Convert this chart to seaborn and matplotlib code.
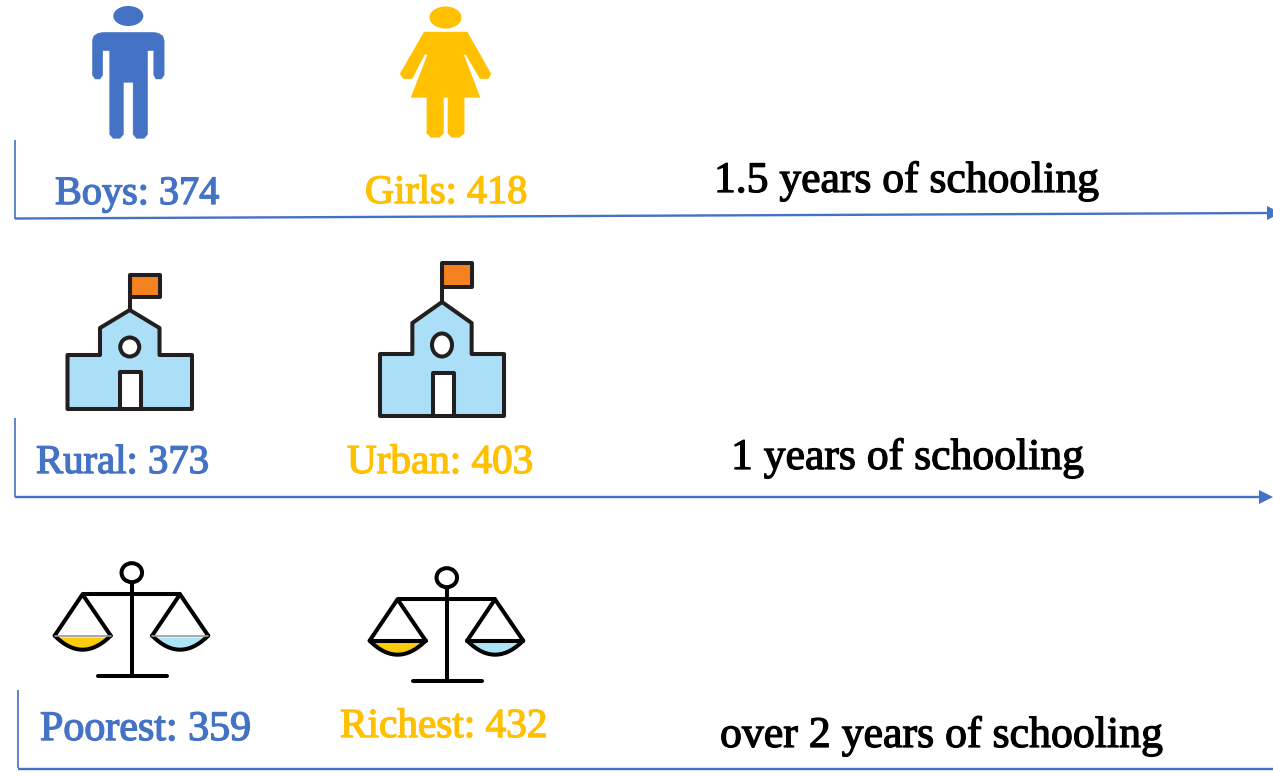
import numpy as np
import pandas as pd
import matplotlib
matplotlib.use("Agg")
import matplotlib.pyplot as plt
import seaborn as sns
from matplotlib.patches import Polygon, Ellipse, Rectangle
import matplotlib.patheffects as pe

# ---------- data ----------
group_a_names = ["Boys", "Rural", "Poorest"]
group_a_scores = [374, 373, 359]
group_b_names = ["Girls", "Urban", "Richest"]
group_b_scores = [418, 403, 432]
gap_labels = ["1.5 years of schooling", "1 years of schooling", "over 2 years of schooling"]

BLUE = "#4472C4"
GOLD = "#FFC000"
INK = "#231F20"

sns.set_theme(style="white")
plt.rcParams["font.family"] = ["Liberation Serif", "DejaVu Serif"]

fig = plt.figure(figsize=(12.73, 7.76), dpi=100)
ax = fig.add_axes([0, 0, 1, 1])
ax.set_xlim(0, 1273)
ax.set_ylim(776, 0)
ax.axis("off")


def fit_text(s, x0, x1, base, color, stroke=0.0):
    t = ax.text(x0, base, s, color=color, fontsize=30, ha="left", va="baseline")
    r = fig.canvas.get_renderer()
    w = t.get_window_extent(r).width
    t.set_fontsize(30 * (x1 - x0) / w)
    if stroke:
        t.set_path_effects([pe.withStroke(linewidth=stroke, foreground=color)])
    return t


# ---------- frames ----------
def frame(xs, ys, lw=1.7, head=None):
    df = pd.DataFrame({"x": xs, "y": ys})
    sns.lineplot(data=df, x="x", y="y", sort=False, estimator=None, color=BLUE,
                 lw=lw, ax=ax, solid_capstyle="butt")
    if head:
        ax.add_patch(Polygon([(head, ys[-1] - 7), (head + 14, ys[-1]), (head, ys[-1] + 7)],
                             closed=True, fc=BLUE, ec="none", clip_on=True))


frame([15, 15], [140, 219], lw=1.2)
frame([15, 1268], [218.5, 213], head=1267)
frame([15, 15], [418, 497], lw=1.2)
frame([15, 1262], [497, 497], head=1259)
frame([18, 18], [690, 768], lw=1.2)
frame([18, 1273], [768.5, 768.5])
ax.set_xlim(0, 1273)
ax.set_ylim(776, 0)
ax.set_xlabel("")
ax.set_ylabel("")


# ---------- icons ----------
def person_boy():
    ax.add_patch(Ellipse((128.3, 16), 30, 20, fc=BLUE, ec="none"))
    p = [(268, 122), (272, 108), (284, 100), (300, 97), (446, 97), (460, 100), (472, 108), (476, 122),
         (476, 225), (468, 237), (452, 237), (446, 225), (446, 152), (428, 152), (428, 403), (418, 415),
         (396, 415), (386, 403), (386, 247), (358, 247), (358, 403), (348, 415), (328, 415), (318, 403),
         (318, 152), (298, 152), (298, 225), (290, 237), (276, 237), (268, 225)]
    ax.add_patch(Polygon([(x / 2.9, y / 3) for x, y in p], closed=True, fc=BLUE, ec=BLUE, lw=0.3, joinstyle="round"))


def person_girl():
    ax.add_patch(Ellipse((445.5, 17.5), 32, 22, fc=GOLD, ec="none"))
    p = [(1230, 96), (1355, 96), (1424, 222), (1416, 236), (1392, 236), (1350, 162), (1345, 165),
         (1392, 292), (1346, 292), (1346, 400), (1332, 412), (1310, 412), (1299, 400), (1299, 292),
         (1286, 292), (1286, 400), (1274, 412), (1250, 412), (1238, 400), (1238, 292), (1192, 292),
         (1240, 165), (1232, 162), (1195, 236), (1170, 236), (1160, 222)]
    ax.add_patch(Polygon([(x / 2.9, y / 3) for x, y in p], closed=True, fc=GOLD, ec=GOLD, lw=0.3, joinstyle="round"))


def school(l, r, fl_top, fl_bot, fl_r, peak, shoulder, base_top, bottom, door_top, cy, rx, ry):
    c = (l + r) / 2
    hw = (r - l) * 0.239
    sty = dict(ec=INK, lw=2.9, joinstyle="round")
    ax.plot([c, c], [peak, fl_top], color=INK, lw=2.9, solid_capstyle="butt")
    ax.add_patch(Rectangle((c, fl_top), fl_r - c, fl_bot - fl_top, fc="#F58220", **sty))
    body = [(l, base_top), (c - hw, base_top), (c - hw, shoulder), (c, peak), (c + hw, shoulder),
            (c + hw, base_top), (r, base_top), (r, bottom), (l, bottom)]
    ax.add_patch(Polygon(body, closed=True, fc="#ABDFF7", **sty))
    ax.add_patch(Ellipse((c, cy), rx * 2, ry * 2, fc="white", **sty))
    ax.add_patch(Rectangle((c - 9.5, door_top), 21, bottom - door_top, fc="white", **sty))


def scale_icon(dx, dy, chord_lw):
    y = lambda v: 550 + v / 3 + dy
    x = lambda v: v / 2.8 + dx
    lw = 2.9
    ax.plot([x(369), x(369)], [y(97), y(378)], color="black", lw=lw, solid_capstyle="butt")
    ax.plot([x(275), x(467)], [y(379), y(379)], color="black", lw=lw, solid_capstyle="round")
    ax.plot([x(231), x(504)], [y(133), y(133)], color="black", lw=lw, solid_capstyle="round")
    ax.add_patch(Ellipse((x(369), y(68)), 20.5, 19, fc="white", ec="black", lw=lw))
    for apex, fill in [(231, "#F9CB0A"), (504, "#ABE3F7")]:
        lft, rgt = apex - 78, apex + 79
        ctrl = 341
        t = np.linspace(0, 1, 60)
        bx = (1 - t) ** 2 * lft + 2 * t * (1 - t) * apex + t ** 2 * rgt
        by = (1 - t) ** 2 * 257 + 2 * t * (1 - t) * ctrl + t ** 2 * 257
        keep = by >= 260
        ax.add_patch(Polygon(list(zip(x(bx[keep]), y(by[keep]))), closed=True, fc=fill, ec="none"))
        ax.plot(x(bx), y(by), color="black", lw=lw)
        ax.plot([x(lft), x(apex), x(rgt)], [y(257), y(133), y(257)], color="black", lw=lw, solid_joinstyle="round")
        ax.plot([x(lft), x(rgt)], [y(257), y(257)], color="black" if chord_lw > 1.5 else "#999999", lw=chord_lw)


person_boy()
person_girl()
school(67.5, 192, 275, 297, 160, 310, 328, 355, 409, 372, 347, 9.5, 9.5)
school(380, 504, 263, 287, 472, 302, 323, 354, 416, 373, 345, 10, 11.5)
scale_icon(0, 0, 1.2)
scale_icon(315, 5, 2.9)

# ---------- text ----------
a_pos = [(55, 219, 204), (36, 209, 473), (40, 251, 740)]
b_pos = [(365, 527, 203), (347, 533, 473), (340, 547, 737)]
g_pos = [(714, 1099, 192), (731, 1084, 469), (720, 1163, 747)]
for n, v, (x0, x1, b) in zip(group_a_names, group_a_scores, a_pos):
    fit_text(f"{n}: {v}", x0, x1, b, BLUE, 1.0)
for n, v, (x0, x1, b) in zip(group_b_names, group_b_scores, b_pos):
    fit_text(f"{n}: {v}", x0, x1, b, GOLD, 1.0)
for s, (x0, x1, b) in zip(gap_labels, g_pos):
    fit_text(s, x0, x1, b, "black", 0.9)

fig.savefig("out.png", dpi=100)
